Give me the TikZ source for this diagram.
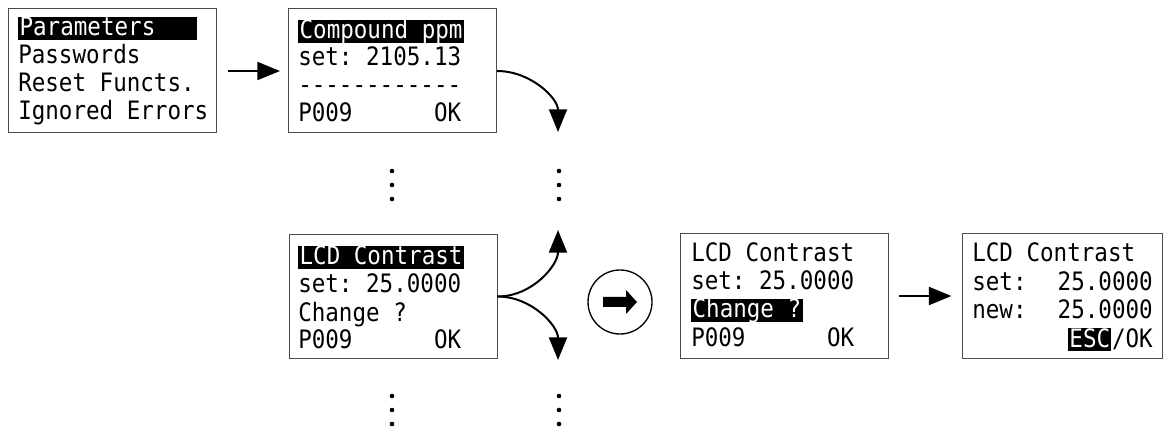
\documentclass[tikz,border=0pt]{standalone}
\usepackage{fontspec}
\setmonofont[FakeStretch=0.89]{DejaVu Sans Mono}
\usetikzlibrary{arrows.meta}

\tikzset{
  screen/.style={draw=black!70, line width=0.75pt, minimum width=156pt, minimum height=93pt, inner sep=0pt},
  txt/.style={anchor=base west, inner sep=0pt, font=\ttfamily\fontsize{19}{22}\selectfont},
  hl/.style={txt, fill=black, text=white, inner xsep=1pt, text height=14.2pt, text depth=3pt},
  arr/.style={line width=1.5pt, -{Triangle[length=17pt,width=13.5pt]}},
}

\begin{document}
\begin{tikzpicture}[x=0.75pt, y=-0.75pt]
\useasboundingbox (0,0) rectangle (1166,427);
% Draw the screens
\node[screen] (menu) at (112.5,71) {};
\node[screen] (ppm) at (392.5,71) {};
\node[screen] (lcd) at (393,296.5) {};
\node[screen] (ask) at (784,296) {};
\node[screen, minimum width=150pt] (edit) at (1062,296) {};
% Menu screen
\node[hl] (m1) at (18,36) {Parameters\phantom{xxx}};
\node[txt] (m2) at (18,64) {Passwords};
\node[txt] (m3) at (18,92) {Reset Functs.};
\node[txt] (m4) at (18,120) {Ignored Errors};
% Compound screen
\node[hl] (c1) at (298,39) {Compound ppm};
\node[txt] (c2) at (298,66) {set: 2105.13};
\node[txt] (c3) at (298,94) {------------};
\node[txt] (c4) at (298,122) {P009~~~~~~OK};
% Contrast screen
\node[hl] (l1) at (298,265) {LCD Contrast};
\node[txt] (l2) at (298,293) {set: 25.0000};
\node[txt] (l3) at (298,321) {Change ?};
\node[txt] (l4) at (298,349) {P009~~~~~~OK};
% Change screen
\node[txt] (k1) at (691,262) {LCD Contrast};
\node[txt] (k2) at (691,290) {set: 25.0000};
\node[hl] (k3) at (691,318) {Change ?};
\node[txt] (k4) at (691,346) {P009~~~~~~OK};
% Edit screen
\node[txt] (n1) at (972,262) {LCD Contrast};
\node[txt] (n2) at (972,291) {set:};
\node[txt, anchor=base east] (v2) at (1153,291) {25.0000};
\node[txt] (n3) at (972,319) {new:};
\node[txt, anchor=base east] (v3) at (1153,319) {25.0000};
\node[txt, anchor=base east] (ok) at (1153,347) {/OK};
\node[hl, anchor=base east] (esc) at (ok.base west) {ESC};
% Straight arrows
\draw[arr, shorten <=8pt, shorten >=6pt] (menu.east) -- (ppm.west);
\draw[arr, shorten <=8pt, shorten >=7.5pt] (ask.east) -- (edit.west);
% Curved arrows
\coordinate (d1) at (558,132);
\coordinate (up) at (558,230);
\coordinate (dn) at (558,360);
\draw[arr] (ppm.east) to[out=0,in=90] (d1);
\draw[arr] (lcd.east) to[out=0,in=-90] (up);
\draw[arr] (lcd.east) to[out=0,in=90] (dn);
% Dots
\foreach \x in {392,559}
  \foreach \y in {171,185,199,396,410,424}
    \fill (\x,\y) circle (2.3);
% Circled arrow
\node[draw, circle, line width=1pt, minimum size=48pt, inner sep=0pt] (go) at (620,302) {};
\fill[shift={(go.center)}] (-17,-5) -- (6,-5) -- (6,-12) -- (17,0) -- (6,12) -- (6,5) -- (-17,5) -- cycle;
\end{tikzpicture}
\end{document}
